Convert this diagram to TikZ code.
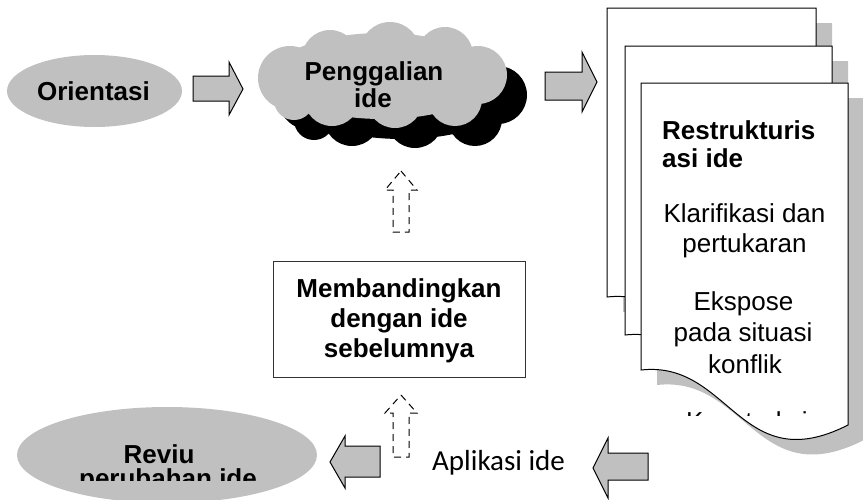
\documentclass[tikz,border=0pt]{standalone}
\usepackage{fontspec}
\setmainfont{Liberation Sans}
\newfontfamily\bodyfont{Carlito}
\definecolor{panelgray}{RGB}{192,192,192}
\tikzset{
  blockarrow/.style={fill=panelgray, draw=black, line width=1pt, line join=miter},
  dasharrow/.style={draw=black, line width=1pt, dash pattern=on 7pt off 5pt},
  boldtxt/.style={font=\fontsize{26}{30}\selectfont\bfseries, inner sep=0pt, anchor=base},
  plaintxt/.style={font=\fontsize{26}{30}\selectfont, inner sep=0pt, anchor=base},
  docshadow/.style={fill=panelgray},
  docpage/.style={fill=white, draw=black, line width=1pt},
}
% one page of the stacked document: left x, right x, top y, y of the lower left corner
\newcommand{\docsheet}[4]{%
  \fill[docshadow, shift={(16,15)}] (#1,#3) -- (#2,#3) -- (#2,#4+55)
    .. controls (#1+99,#4+110) and (#1+89,#4-10) .. (#1,#4) -- cycle;
  \filldraw[docpage] (#1,#3) -- (#2,#3) -- (#2,#4+55)
    .. controls (#1+99,#4+110) and (#1+89,#4-10) .. (#1,#4) -- cycle;
}
% cloud silhouette as a union of puffs
\newcommand{\cloudpuffs}{%
  (382,76) ellipse [x radius=110, y radius=43]
  (290,78) circle [radius=32]
  (330,58) circle [radius=28]
  (390,52) circle [radius=30]
  (445,55) circle [radius=28]
  (478,75) circle [radius=29]
  (455,99) circle [radius=27]
  (395,100) circle [radius=28]
  (332,98) circle [radius=28]
  (294,100) circle [radius=20]
}
\begin{document}
\begin{tikzpicture}[x=1pt, y=-1pt]
\useasboundingbox (0,0) rectangle (863,499);

% Orientasi
\fill[panelgray] (94.5,91) ellipse [x radius=87.5, y radius=36];
\node[boldtxt] (orient) at (93.5,100) {Orientasi};

% block arrow to the cloud
\draw[blockarrow] (243,89) -- (229,62) -- (229,76) -- (193,76) -- (193,101)
  -- (229,101) -- (229,115) -- cycle;

% Penggalian ide cloud with its dark shadow
\fill[black, shift={(20,20)}] \cloudpuffs;
\fill[panelgray] \cloudpuffs;
\coordinate (cloud) at (382,75);
\node[boldtxt] (dig1) at (374,80) {Penggalian};
\node[boldtxt] (dig2) at (373,107) {ide};

% block arrow to the documents
\draw[blockarrow] (597,82) -- (582,52) -- (582,72) -- (545,72) -- (545,100)
  -- (582,100) -- (582,112) -- cycle;

% stacked documents
\docsheet{607}{816}{8}{297}
\docsheet{625}{832}{46}{335}
\docsheet{641}{848}{83}{370}

\node[boldtxt, anchor=base west] (rs1) at (662,139) {Restrukturis};
\node[boldtxt, anchor=base west] (rs2) at (662,167) {asi ide};
\node[plaintxt] (k1) at (744.5,222) {Klarifikasi dan};
\node[plaintxt] (k2) at (744.5,252) {pertukaran};
\node[plaintxt] (e1) at (743.5,310) {Ekspose};
\node[plaintxt] (e2) at (743,341) {pada situasi};
\node[plaintxt] (e3) at (745,373) {konflik};
\begin{scope}
  \clip (641,411) rectangle (848,415);
  \node[plaintxt, anchor=base west] (ks) at (686,430.5) {Konstruksi};
\end{scope}

% dashed arrow up to the cloud
\draw[dasharrow] (401,171) -- (417,190) -- (409,190) -- (409,232) -- (393,232)
  -- (393,190) -- (385,190) -- cycle;

% comparison box
\draw[line width=1pt, draw=black!80] (273,261) rectangle (525,377);
\node[boldtxt] (cmp1) at (399,297) {Membandingkan};
\node[boldtxt] (cmp2) at (399,327) {dengan ide};
\node[boldtxt] (cmp3) at (399,357) {sebelumnya};

% dashed arrow up to the box
\draw[dasharrow] (401,395) -- (417,413) -- (409,413) -- (409,457) -- (393,457)
  -- (393,413) -- (385,413) -- cycle;

% Reviu oval
\fill[panelgray] (167,455) ellipse [x radius=150, y radius=48];
\node[boldtxt] (rev1) at (159,463) {Reviu};
\begin{scope}
  \clip (0,440) rectangle (330,480);
  \node[boldtxt] (rev2) at (168,487) {perubahan ide};
\end{scope}

% block arrow to the oval
\draw[blockarrow] (330,462) -- (345,436) -- (345,446) -- (380,446) -- (380,477)
  -- (345,477) -- (345,488) -- cycle;

% Aplikasi ide
\node[font=\bodyfont\fontsize{29}{34}\selectfont, inner sep=0pt, anchor=base west]
  (apl) at (432,470) {Aplikasi ide};

% block arrow from the documents
\draw[blockarrow] (593,468) -- (608,438) -- (608,453) -- (648,453) -- (648,480)
  -- (608,480) -- (608,498) -- cycle;
\end{tikzpicture}
\end{document}
